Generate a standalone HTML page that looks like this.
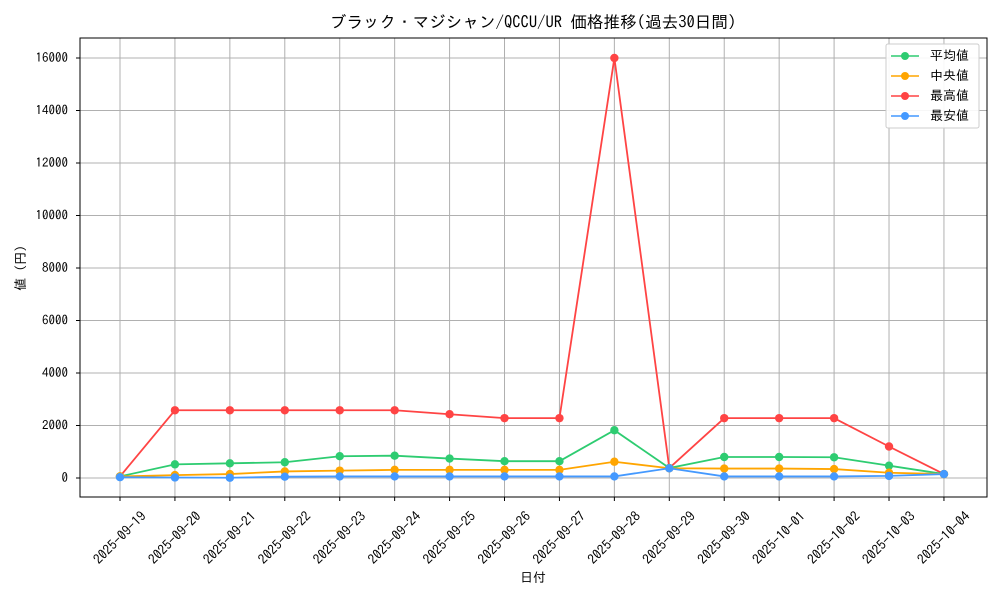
<!DOCTYPE html>
<html><head><meta charset="utf-8"><style>
body{margin:0;background:#fff}
text{font-family:"IPAGothic","Noto Sans CJK JP",monospace;font-size:13px;fill:#000}
.d text{font-size:13.5px}
</style></head><body>
<svg id="s" width="1000" height="600" xmlns="http://www.w3.org/2000/svg">
<rect width="1000" height="600" fill="#fff"/>
<g id="grid" stroke="#b0b0b0" stroke-width="1"></g>
<rect x="80" y="38" width="907" height="459" fill="none" stroke="#000" stroke-width="1"/>
<g id="series"></g>
<text x="533" y="28" text-anchor="middle" style="font-size:16.6px">ブラック・マジシャン/QCCU/UR 価格推移(過去30日間)</text>
<text x="533" y="582" text-anchor="middle">日付</text>
<text transform="translate(25,268) rotate(-90)" text-anchor="middle">値 (円)</text>
<g text-anchor="end">
<text x="68" y="482">0</text><text x="68" y="429.5">2000</text><text x="68" y="377">4000</text><text x="68" y="324.5">6000</text><text x="68" y="272">8000</text><text x="68" y="219.5">10000</text><text x="68" y="167">12000</text><text x="68" y="114.5">14000</text><text x="68" y="62">16000</text>
</g>
<g class="d" id="dates" text-anchor="middle"></g>
<rect x="886" y="44" width="93" height="84" fill="#fff" fill-opacity="0.9" stroke="#ccc" rx="2"/>
<line x1="891" y1="56" x2="919" y2="56" stroke="#2ecc71" stroke-width="1.5"/><circle cx="905" cy="56" r="4" fill="#2ecc71"/><text x="930" y="60">平均値</text>
<line x1="891" y1="76" x2="919" y2="76" stroke="#ffa500" stroke-width="1.5"/><circle cx="905" cy="76" r="4" fill="#ffa500"/><text x="930" y="80">中央値</text>
<line x1="891" y1="96" x2="919" y2="96" stroke="#ff4444" stroke-width="1.5"/><circle cx="905" cy="96" r="4" fill="#ff4444"/><text x="930" y="100">最高値</text>
<line x1="891" y1="116" x2="919" y2="116" stroke="#4499ff" stroke-width="1.5"/><circle cx="905" cy="116" r="4" fill="#4499ff"/><text x="930" y="120">最安値</text>
</svg>
<script>
var NS="http://www.w3.org/2000/svg";
function el(p,t,a){var e=document.createElementNS(NS,t);for(var k in a)e.setAttribute(k,a[k]);p.appendChild(e);return e;}
var g=document.getElementById('grid'),s=document.getElementById('series'),dg=document.getElementById('dates');
var X=[];for(var i=0;i<16;i++)X.push(120+i*54.93);
var L=['2025-09-19','2025-09-20','2025-09-21','2025-09-22','2025-09-23','2025-09-24','2025-09-25','2025-09-26','2025-09-27','2025-09-28','2025-09-29','2025-09-30','2025-10-01','2025-10-02','2025-10-03','2025-10-04'];
X.forEach(function(x,i){el(g,'line',{x1:x,y1:38,x2:x,y2:497});el(g,'line',{x1:x,y1:497,x2:x,y2:501,stroke:'#000'});
var t=el(dg,'text',{transform:'translate('+(x+3)+',541) rotate(-45)'});t.textContent=L[i];});
for(var k=0;k<=8;k++){var y=478-k*52.5;el(g,'line',{x1:80,y1:y,x2:987,y2:y});el(g,'line',{x1:76,y1:y,x2:80,y2:y,stroke:'#000'});}
var D=[
['#ff4444',[60,2580,2580,2580,2580,2580,2430,2280,2280,16000,380,2280,2280,2280,1200,150]],
['#2ecc71',[60,520,560,600,830,850,740,640,640,1820,380,800,800,790,470,150]],
['#ffa500',[60,110,150,250,280,310,310,310,310,620,370,360,360,340,200,150]],
['#4499ff',[30,20,10,50,60,60,60,60,60,60,370,60,60,60,80,150]]];
D.forEach(function(d){var pts=d[1].map(function(v,i){return X[i]+','+(478-v*0.02625);}).join(' ');
el(s,'polyline',{points:pts,fill:'none',stroke:d[0],'stroke-width':1.8});
d[1].forEach(function(v,i){el(s,'circle',{cx:X[i],cy:478-v*0.02625,r:4.2,fill:d[0]});});});
</script>
</body></html>
